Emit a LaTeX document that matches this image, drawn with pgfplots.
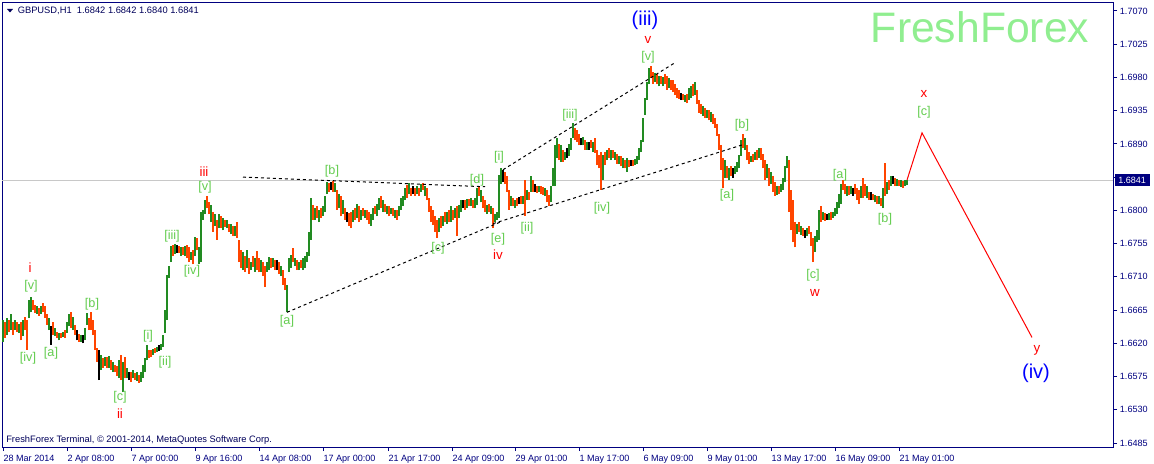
\documentclass[border=0pt]{standalone}
\usepackage{pgfplots}
\pgfplotsset{compat=1.18}
\usepackage{pgfplotstable}
\usepackage{fontspec}
\setmainfont{Liberation Sans}
\definecolor{mtnavy}{RGB}{0,0,128}
\definecolor{headcol}{RGB}{0,0,90}
\definecolor{wavegreen}{RGB}{100,205,80}
\definecolor{ffgreen}{RGB}{144,238,144}
\definecolor{gridgray}{RGB}{200,200,200}
\definecolor{redlbl}{RGB}{255,0,0}
\definecolor{bluelbl}{RGB}{0,0,255}

% x = bar position (chart pixel column), l = low, h = high, c: 0 down, 1 up, 2 doji
\pgfplotstableread{
x l h c
3 1.6622 1.6652 1
5 1.6627 1.6649 0
7 1.6631 1.6654 1
9 1.6635 1.6652 0
11 1.6638 1.6660 1
13 1.6631 1.6649 0
15 1.6638 1.6652 1
17 1.6635 1.6649 0
19 1.6634 1.6646 1
21 1.6624 1.6649 0
23 1.6630 1.6652 1
25 1.6638 1.6656 0
27 1.6611 1.6652 0
29 1.6654 1.6679 1
31 1.6662 1.6683 1
33 1.6665 1.6679 0
35 1.6661 1.6672 0
37 1.6660 1.6670 1
39 1.6657 1.6668 0
41 1.6660 1.6670 1
43 1.6662 1.6675 0
45 1.6654 1.6670 0
47 1.6645 1.6660 0
49 1.6638 1.6654 1
51 1.6618 1.6643 2
53 1.6631 1.6649 0
55 1.6630 1.6641 1
57 1.6627 1.6635 0
59 1.6624 1.6634 1
61 1.6627 1.6634 0
63 1.6628 1.6635 1
65 1.6627 1.6638 0
67 1.6634 1.6649 1
69 1.6643 1.6660 1
71 1.6641 1.6662 0
73 1.6638 1.6656 1
75 1.6631 1.6645 0
77 1.6624 1.6638 2
79 1.6622 1.6633 0
81 1.6622 1.6631 1
83 1.6620 1.6631 2
85 1.6624 1.6641 1
87 1.6645 1.6661 1
89 1.6638 1.6654 0
91 1.6638 1.6662 0
93 1.6631 1.6652 0
95 1.6611 1.6638 0
97 1.6595 1.6614 0
99 1.6570 1.6611 2
101 1.6584 1.6604 1
103 1.6587 1.6600 0
105 1.6589 1.6601 1
107 1.6587 1.6601 0
109 1.6587 1.6603 1
111 1.6584 1.6597 0
113 1.6581 1.6595 1
115 1.6581 1.6591 0
117 1.6576 1.6589 0
119 1.6573 1.6597 1
121 1.6570 1.6604 0
123 1.6554 1.6595 1
125 1.6573 1.6601 0
127 1.6573 1.6587 1
129 1.6570 1.6581 2
131 1.6568 1.6581 0
133 1.6573 1.6584 1
135 1.6570 1.6580 0
137 1.6569 1.6581 1
139 1.6566 1.6577 0
141 1.6568 1.6581 1
143 1.6573 1.6591 1
145 1.6581 1.6600 1
147 1.6597 1.6618 1
149 1.6600 1.6611 0
151 1.6601 1.6611 0
153 1.6604 1.6612 1
155 1.6607 1.6614 0
157 1.6608 1.6615 1
159 1.6610 1.6618 2
161 1.6611 1.6619 1
163 1.6615 1.6631 1
165 1.6634 1.6665 1
167 1.6652 1.6712 1
169 1.6709 1.6725 1
171 1.6730 1.6752 1
173 1.6738 1.6753 0
175 1.6741 1.6755 1
177 1.6742 1.6753 2
179 1.6742 1.6752 0
181 1.6738 1.6750 1
183 1.6740 1.6750 0
185 1.6738 1.6752 1
187 1.6736 1.6753 0
189 1.6730 1.6750 0
191 1.6733 1.6744 1
193 1.6727 1.6746 0
195 1.6738 1.6764 1
197 1.6746 1.6763 0
199 1.6727 1.6750 1
201 1.6730 1.6798 1
203 1.6787 1.6801 1
205 1.6795 1.6814 1
207 1.6803 1.6820 0
209 1.6795 1.6811 0
211 1.6784 1.6807 1
213 1.6771 1.6798 0
215 1.6779 1.6795 1
217 1.6760 1.6787 0
219 1.6776 1.6795 1
221 1.6776 1.6793 0
223 1.6773 1.6790 1
225 1.6778 1.6787 0
227 1.6776 1.6787 1
229 1.6771 1.6782 0
231 1.6768 1.6782 1
233 1.6765 1.6779 0
235 1.6765 1.6779 1
237 1.6763 1.6784 0
239 1.6730 1.6760 0
241 1.6722 1.6746 0
243 1.6719 1.6744 1
245 1.6717 1.6738 0
247 1.6722 1.6746 1
249 1.6714 1.6736 0
251 1.6719 1.6730 1
253 1.6723 1.6738 0
255 1.6717 1.6736 1
257 1.6719 1.6745 0
259 1.6716 1.6736 0
261 1.6717 1.6733 1
263 1.6711 1.6730 0
265 1.6696 1.6725 0
267 1.6717 1.6730 1
269 1.6719 1.6737 1
271 1.6722 1.6736 0
273 1.6723 1.6736 1
275 1.6719 1.6733 0
277 1.6719 1.6733 2
279 1.6714 1.6730 0
281 1.6711 1.6725 1
283 1.6699 1.6719 0
285 1.6692 1.6709 0
287 1.6662 1.6699 1
289 1.6717 1.6736 1
291 1.6722 1.6740 1
293 1.6730 1.6749 0
295 1.6725 1.6736 1
297 1.6719 1.6733 0
299 1.6719 1.6730 1
301 1.6722 1.6733 0
303 1.6719 1.6736 1
305 1.6722 1.6738 1
307 1.6730 1.6744 1
309 1.6738 1.6771 1
311 1.6760 1.6817 1
313 1.6787 1.6807 0
315 1.6787 1.6803 1
317 1.6790 1.6806 0
319 1.6784 1.6801 1
321 1.6790 1.6803 0
323 1.6793 1.6806 1
325 1.6798 1.6820 1
327 1.6822 1.6838 1
329 1.6825 1.6837 0
331 1.6828 1.6838 2
333 1.6825 1.6840 0
335 1.6825 1.6837 1
337 1.6801 1.6828 0
339 1.6803 1.6822 1
341 1.6792 1.6820 0
343 1.6795 1.6814 1
345 1.6787 1.6803 0
347 1.6784 1.6798 2
349 1.6779 1.6796 0
351 1.6776 1.6798 0
353 1.6784 1.6801 1
355 1.6787 1.6803 0
357 1.6790 1.6809 1
359 1.6784 1.6806 0
361 1.6787 1.6801 1
363 1.6792 1.6803 0
365 1.6790 1.6801 1
367 1.6787 1.6801 0
369 1.6782 1.6798 0
371 1.6779 1.6795 1
373 1.6787 1.6803 1
375 1.6795 1.6806 0
377 1.6792 1.6809 1
379 1.6801 1.6817 1
381 1.6803 1.6820 0
383 1.6798 1.6814 1
385 1.6798 1.6809 0
387 1.6795 1.6806 1
389 1.6792 1.6806 0
391 1.6795 1.6803 1
393 1.6792 1.6803 0
395 1.6790 1.6801 1
397 1.6787 1.6801 0
399 1.6792 1.6806 1
401 1.6801 1.6817 1
403 1.6806 1.6820 1
405 1.6814 1.6830 1
407 1.6817 1.6834 0
409 1.6822 1.6837 1
411 1.6820 1.6830 0
413 1.6822 1.6833 2
415 1.6820 1.6830 0
417 1.6822 1.6833 1
419 1.6820 1.6830 0
421 1.6825 1.6836 1
423 1.6828 1.6837 0
425 1.6820 1.6833 1
427 1.6814 1.6830 0
429 1.6798 1.6817 0
431 1.6784 1.6806 0
433 1.6780 1.6801 0
435 1.6771 1.6793 0
437 1.6763 1.6787 0
439 1.6771 1.6790 1
441 1.6776 1.6792 0
443 1.6779 1.6793 1
445 1.6784 1.6798 0
447 1.6782 1.6798 1
449 1.6784 1.6801 0
451 1.6784 1.6806 1
453 1.6787 1.6801 0
455 1.6790 1.6803 1
457 1.6765 1.6806 0
459 1.6790 1.6807 1
461 1.6798 1.6814 1
463 1.6803 1.6814 2
465 1.6801 1.6814 0
467 1.6803 1.6815 1
469 1.6806 1.6815 0
471 1.6806 1.6817 1
473 1.6803 1.6814 0
475 1.6803 1.6817 1
477 1.6807 1.6830 1
479 1.6820 1.6833 0
481 1.6811 1.6828 1
483 1.6803 1.6820 0
485 1.6798 1.6814 0
487 1.6795 1.6807 1
489 1.6798 1.6809 0
491 1.6795 1.6806 1
493 1.6776 1.6803 0
495 1.6784 1.6795 1
497 1.6787 1.6798 1
499 1.6790 1.6848 1
501 1.6836 1.6857 1
503 1.6838 1.6855 2
505 1.6836 1.6852 0
507 1.6825 1.6847 0
509 1.6801 1.6828 0
511 1.6806 1.6820 1
513 1.6806 1.6817 0
515 1.6803 1.6814 1
517 1.6806 1.6817 0
519 1.6809 1.6818 2
521 1.6809 1.6820 0
523 1.6809 1.6820 1
525 1.6793 1.6841 0
527 1.6814 1.6828 1
529 1.6814 1.6825 0
531 1.6825 1.6847 1
533 1.6825 1.6841 0
535 1.6825 1.6836 2
537 1.6824 1.6833 0
539 1.6825 1.6833 1
541 1.6822 1.6833 0
543 1.6821 1.6832 0
545 1.6820 1.6830 1
547 1.6811 1.6828 0
549 1.6806 1.6821 0
551 1.6811 1.6833 1
553 1.6833 1.6857 1
555 1.6833 1.6889 1
557 1.6871 1.6898 1
559 1.6868 1.6890 0
561 1.6866 1.6888 1
563 1.6866 1.6882 0
565 1.6868 1.6879 1
567 1.6871 1.6885 2
569 1.6874 1.6890 1
571 1.6882 1.6898 1
573 1.6898 1.6918 1
575 1.6895 1.6912 0
577 1.6893 1.6909 0
579 1.6888 1.6903 0
581 1.6888 1.6898 2
583 1.6888 1.6900 1
585 1.6882 1.6895 0
587 1.6882 1.6893 1
589 1.6882 1.6893 2
591 1.6885 1.6895 0
593 1.6879 1.6893 1
595 1.6878 1.6898 0
597 1.6861 1.6882 0
599 1.6857 1.6875 0
601 1.6828 1.6879 0
603 1.6841 1.6875 1
605 1.6861 1.6879 0
607 1.6868 1.6882 1
609 1.6871 1.6885 0
611 1.6868 1.6882 1
613 1.6871 1.6882 0
615 1.6868 1.6879 1
617 1.6863 1.6877 0
619 1.6863 1.6874 1
621 1.6860 1.6874 0
623 1.6857 1.6871 1
625 1.6857 1.6868 0
627 1.6852 1.6871 1
629 1.6859 1.6868 0
631 1.6860 1.6868 2
633 1.6860 1.6868 0
635 1.6861 1.6870 1
637 1.6863 1.6874 1
639 1.6868 1.6885 1
641 1.6879 1.6895 1
643 1.6893 1.6925 1
645 1.6929 1.6952 1
647 1.6950 1.6974 1
649 1.6971 1.6993 1
651 1.6979 1.6996 0
653 1.6971 1.6987 0
655 1.6974 1.6986 1
657 1.6971 1.6985 0
659 1.6968 1.6982 1
661 1.6971 1.6982 0
663 1.6968 1.6981 1
665 1.6971 1.6985 0
667 1.6963 1.6982 0
669 1.6966 1.6979 1
671 1.6963 1.6977 0
673 1.6960 1.6977 0
675 1.6956 1.6971 0
677 1.6952 1.6966 0
679 1.6951 1.6963 0
681 1.6950 1.6959 2
683 1.6950 1.6958 0
685 1.6947 1.6956 1
687 1.6945 1.6958 0
689 1.6950 1.6966 1
691 1.6952 1.6968 1
693 1.6955 1.6971 0
695 1.6956 1.6974 1
697 1.6944 1.6963 0
699 1.6932 1.6950 0
701 1.6931 1.6944 0
703 1.6928 1.6941 1
705 1.6925 1.6939 0
707 1.6925 1.6936 1
709 1.6922 1.6936 0
711 1.6920 1.6933 1
713 1.6917 1.6931 0
715 1.6912 1.6925 0
717 1.6901 1.6917 0
719 1.6882 1.6903 0
721 1.6855 1.6889 0
723 1.6830 1.6871 0
725 1.6844 1.6868 1
727 1.6844 1.6860 0
729 1.6841 1.6857 1
731 1.6847 1.6860 0
733 1.6844 1.6857 2
735 1.6849 1.6860 1
737 1.6852 1.6866 1
739 1.6857 1.6875 1
741 1.6874 1.6895 1
743 1.6885 1.6903 0
745 1.6882 1.6898 1
747 1.6868 1.6888 0
749 1.6863 1.6879 0
751 1.6866 1.6874 1
753 1.6866 1.6877 0
755 1.6868 1.6879 1
757 1.6868 1.6882 0
759 1.6871 1.6885 1
761 1.6868 1.6885 0
763 1.6857 1.6877 0
765 1.6841 1.6868 0
767 1.6844 1.6863 1
769 1.6833 1.6857 0
771 1.6836 1.6852 1
773 1.6825 1.6847 0
775 1.6820 1.6838 0
777 1.6821 1.6833 1
779 1.6822 1.6833 0
781 1.6825 1.6836 1
783 1.6828 1.6844 1
785 1.6838 1.6860 1
787 1.6857 1.6874 1
789 1.6798 1.6868 0
791 1.6773 1.6828 0
793 1.6757 1.6814 0
795 1.6750 1.6784 0
797 1.6768 1.6782 1
799 1.6771 1.6784 0
801 1.6767 1.6779 1
803 1.6765 1.6776 0
805 1.6763 1.6773 2
807 1.6765 1.6776 1
809 1.6768 1.6779 0
811 1.6752 1.6771 0
813 1.6730 1.6763 0
815 1.6744 1.6765 1
817 1.6757 1.6773 1
819 1.6760 1.6801 1
821 1.6784 1.6806 0
823 1.6787 1.6798 1
825 1.6786 1.6796 0
827 1.6787 1.6795 2
829 1.6787 1.6796 1
831 1.6787 1.6798 0
833 1.6790 1.6798 1
835 1.6792 1.6803 1
837 1.6795 1.6811 1
839 1.6803 1.6822 1
841 1.6809 1.6836 1
843 1.6828 1.6841 0
845 1.6822 1.6836 0
847 1.6820 1.6833 1
849 1.6821 1.6833 0
851 1.6822 1.6833 1
853 1.6820 1.6830 2
855 1.6822 1.6836 0
857 1.6814 1.6830 0
859 1.6809 1.6828 0
861 1.6817 1.6833 1
863 1.6817 1.6844 0
865 1.6820 1.6836 0
867 1.6817 1.6833 1
869 1.6814 1.6825 0
871 1.6814 1.6825 2
873 1.6814 1.6822 0
875 1.6811 1.6821 1
877 1.6809 1.6820 0
879 1.6809 1.6820 1
881 1.6806 1.6817 0
883 1.6803 1.6830 1
885 1.6820 1.6864 0
887 1.6822 1.6838 1
889 1.6828 1.6841 0
891 1.6833 1.6847 1
893 1.6836 1.6847 2
895 1.6833 1.6844 0
897 1.6833 1.6843 1
899 1.6833 1.6841 0
901 1.6832 1.6841 1
903 1.6830 1.6840 0
905 1.6833 1.6841 1
907 1.6834 1.6841 1
}\bars

\tikzset{
  wl/.style={text=wavegreen, font=\fontsize{9.5}{10}\selectfont, inner sep=0pt},
  rl/.style={text=redlbl, font=\fontsize{10}{11}\selectfont, inner sep=0pt},
  bl/.style={text=bluelbl, font=\fontsize{15}{16}\selectfont, inner sep=0pt},
  dotl/.style={black, line width=0.75pt, dash pattern=on 2.25pt off 2.25pt}
}

\begin{document}
\begin{tikzpicture}
\begin{axis}[
  at={(1.875pt,-335.25pt)}, anchor=south west,
  scale only axis, width=832.875pt, height=333pt,
  xmin=2.5, xmax=1113, ymin=1.64796, ymax=1.70808,
  clip=false,
  axis line style={mtnavy, line width=0.75pt},
  colormap={bars}{rgb255=(255,69,0) rgb255=(34,139,34) rgb255=(0,0,0)},
  point meta min=0, point meta max=2,
  xtick={3,67,131,195,259,323,388,452,515,579,643,707,771,835,899},
  xticklabels={28 Mar 2014,2 Apr 08:00,7 Apr 00:00,9 Apr 16:00,14 Apr 08:00,17 Apr 00:00,21 Apr 17:00,24 Apr 09:00,29 Apr 01:00,1 May 17:00,6 May 09:00,9 May 01:00,13 May 17:00,16 May 09:00,21 May 01:00},
  ytick={1.6485,1.6530,1.6575,1.6620,1.6665,1.6710,1.6755,1.6800,1.6845,1.6890,1.6935,1.6980,1.7025,1.7070},
  yticklabels={1.6485,1.6530,1.6575,1.6620,1.6665,1.6710,1.6755,1.6800,{},1.6890,1.6935,1.6980,1.7025,1.7070},
  xtick pos=bottom, ytick pos=right,
  tick align=outside, major tick length=3pt,
  tick style={mtnavy, line width=0.75pt},
  xticklabel style={anchor=north west, inner sep=0pt, xshift=0.2pt, yshift=-3pt, text=mtnavy, font=\fontsize{6.8}{8}\selectfont},
  yticklabel style={anchor=west, inner sep=0pt, xshift=2pt, text=mtnavy, font=\fontsize{6.8}{8}\selectfont},
]
% current price line
\addplot[gridgray, line width=0.75pt] coordinates {(2.5,1.6841) (1113,1.6841)};

% bars
\addplot[quiver={u=0, v=\thisrow{h}-\thisrow{l}, colored=mapped color},
  point meta=\thisrow{c}, line width=1.1pt, -] table[x=x, y=l] {\bars};

% trend lines
\addplot[dotl] coordinates {(243,1.6845) (485,1.6832)};
\addplot[dotl] coordinates {(287,1.6662) (500,1.6784)};
\addplot[dotl] coordinates {(493,1.6782) (743,1.6889)};
\addplot[dotl] coordinates {(503,1.6855) (675,1.7000)};

% forecast path
\addplot[redlbl, line width=0.75pt] coordinates {(907,1.6841) (922,1.6905) (1032,1.6628)};

% wave labels
\node[rl] at (30,1.6722) {i};
\node[wl] at (31,1.6697) {[v]};
\node[wl] at (28,1.6600) {[iv]};
\node[wl] at (51,1.6607) {[a]};
\node[wl] at (92,1.6673) {[b]};
\node[wl] at (120,1.6547) {[c]};
\node[rl] at (120,1.6525) {ii};
\node[wl] at (148,1.6630) {[i]};
\node[wl] at (165,1.6595) {[ii]};
\node[wl] at (172,1.6765) {[iii]};
\node[wl] at (192,1.6717) {[iv]};
\node[wl] at (205,1.6832) {[v]};
\node[rl] at (204,1.6853) {iii};
\node[wl] at (287,1.6650) {[a]};
\node[wl] at (332,1.6853) {[b]};
\node[wl] at (438,1.6749) {[c]};
\node[wl] at (477,1.6841) {[d]};
\node[wl] at (498,1.6761) {[e]};
\node[rl] at (498,1.6740) {iv};
\node[wl] at (499,1.6872) {[i]};
\node[wl] at (527,1.6776) {[ii]};
\node[wl] at (570,1.6929) {[iii]};
\node[wl] at (602,1.6803) {[iv]};
\node[wl] at (648,1.7007) {[v]};
\node[rl] at (648,1.7031) {v};
\node[bl] at (645,1.7058) {(iii)};
\node[wl] at (727,1.6821) {[a]};
\node[wl] at (742,1.6915) {[b]};
\node[wl] at (813,1.6712) {[c]};
\node[rl] at (815,1.6688) {w};
\node[wl] at (840,1.6847) {[a]};
\node[wl] at (885,1.6788) {[b]};
\node[wl] at (924,1.6933) {[c]};
\node[rl] at (924,1.6958) {x};
\node[rl] at (1037,1.6611) {y};
\node[bl] at (1036,1.6579) {(iv)};

% watermark, header, footer
\node[text=ffgreen, font=\fontsize{32}{34}\selectfont, inner sep=0pt] at (980,1.70483) {FreshForex};
\fill[headcol] (7,1.70727) -- (13,1.70727) -- (10,1.70680) -- cycle;
\node[anchor=west, inner sep=0pt, text=headcol, font=\fontsize{7}{8}\selectfont] at (17.5,1.7070) {GBPUSD,H1\ \ 1.6842 1.6842 1.6840 1.6841};
\node[anchor=west, inner sep=0pt, text=headcol, font=\fontsize{7}{8}\selectfont] at (6,1.64891) {FreshForex Terminal, © 2001-2014, MetaQuotes Software Corp.};

% price tag
\fill[mtnavy] (1115,1.68499) rectangle (1150,1.68324);
\node[anchor=west, inner sep=0pt, text=white, font=\fontsize{6.8}{8}\selectfont] at (1118,1.6841) {1.6841};
\end{axis}
\pgfresetboundingbox
\path[use as bounding box] (0,0) rectangle (865.5pt,-348pt);
\end{tikzpicture}
\end{document}
